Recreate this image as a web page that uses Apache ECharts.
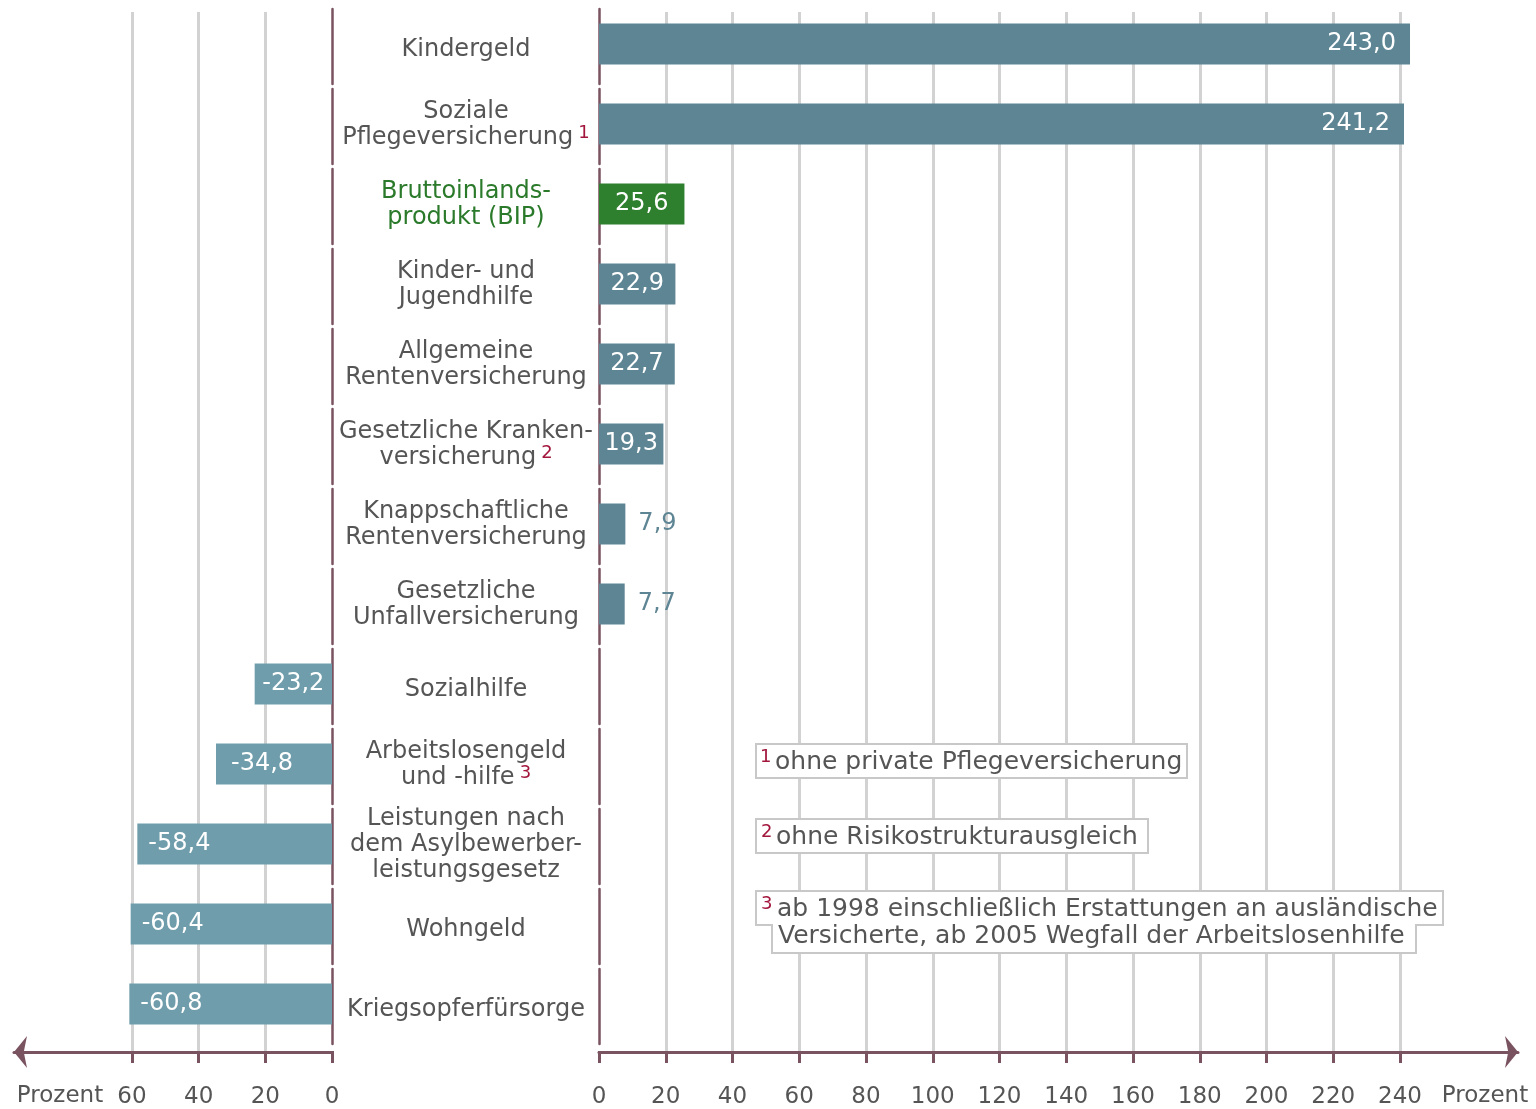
<!DOCTYPE html>
<html><head><meta charset="utf-8">
<script src="https://cdn.jsdelivr.net/npm/echarts@6/dist/echarts.min.js"></script>
<style>html,body{margin:0;padding:0;background:#fff}#c{width:1536px;height:1109px}</style>
</head><body><div id="c"></div>
<script>
// ---- data ----
const categories = ['Kindergeld', 'Soziale\nPflegeversicherung', 'Bruttoinlands-\nprodukt (BIP)', 'Kinder- und\nJugendhilfe', 'Allgemeine\nRentenversicherung', 'Gesetzliche Kranken-\nversicherung', 'Knappschaftliche\nRentenversicherung', 'Gesetzliche\nUnfallversicherung', 'Sozialhilfe', 'Arbeitslosengeld\nund -hilfe', 'Leistungen nach\ndem Asylbewerber-\nleistungsgesetz', 'Wohngeld', 'Kriegsopferfürsorge'];
const values = [243.0, 241.2, 25.6, 22.9, 22.7, 19.3, 7.9, 7.7, -23.2, -34.8, -58.4, -60.4, -60.8];
const footnoteMarks = ['', '1', '', '', '', '2', '', '', '', '3', '', '', ''];
const highlightCategory = 'Bruttoinlands-\nprodukt (BIP)';
const rightTicks = [0, 240, 20];   // min, max, interval
const leftTicks = [-60, 0, 20];
const unitLabel = 'Prozent';
const footnoteNumbers = ['1', '2', '3'];
const footnoteLines = [['ohne private Pflegeversicherung'], ['ohne Risikostrukturausgleich'], ['ab 1998 einschließlich Erstattungen an ausländische', 'Versicherte, ab 2005 Wegfall der Arbeitslosenhilfe']];

// ---- styles ----
const FONT = 'DejaVu Sans';
const TXT = '#555555';
const MAROON = '#7a5360';
const GRIDC = '#d2d2d2';
const RIGHT_BAR = '#5e8594';
const LEFT_BAR = '#6f9dab';
const GREEN = '#2e7f2e';
const GREEN_TXT = '#2b7a2b';
const SUP = '#a3163c';

const fmt = v => (Math.round(Math.abs(v) * 10) / 10).toFixed(1).replace('.', ',');
const fmtSigned = v => (v < 0 ? '-' : '') + fmt(v);

const rightData = values.map((v, i) => {
  if (v <= 0) return '-';
  const hl = categories[i] === highlightCategory;
  const col = hl ? GREEN : RIGHT_BAR;
  let label;
  if (v >= 100) label = {position: 'insideRight', distance: 14};
  else if (v >= 10) label = {position: 'inside'};
  else label = {position: 'right', distance: 13, color: col};
  return {value: v, itemStyle: {color: col}, label: label};
});
const leftData = values.map((v, i) => {
  if (v >= 0) return '-';
  let label;
  if (Math.abs(v) < 30) label = {position: 'inside'};
  else label = {position: 'insideLeft', distance: Math.abs(v) < 50 ? 15 : 11};
  return {value: v, itemStyle: {color: LEFT_BAR}, label: label};
});

const catFormatter = (value) => {
  const lines = value.split('\n');
  let st = value === highlightCategory ? 'g' : 'n';
  if (lines.length === 1) st = 's';
  const mark = footnoteMarks[categories.indexOf(value)];
  return lines.map((l, i) => '{' + st + '|' + l + '}' + (i === lines.length - 1 && mark ? '{sup|' + mark + '}' : '')).join('\n');
};

const divider = {show: true, lineStyle: {color: MAROON, width: 2.5, type: [75, 5], dashOffset: 75}};
const tickStyle = {show: true, length: 12, lineStyle: {color: MAROON, width: 3}};
const labelStyle = {margin: 35, fontSize: 23, color: TXT, fontFamily: FONT};

const footGraphics = [];
const boxes = [
  [[756, 744, 431, 34]],
  [[756, 819, 392, 34]],
  [[756, 891, 687, 34], [772, 922, 644, 31]]
];
const textPos = [[[760, 757], [775, 762]], [[761, 832], [776, 837]], [[761, 904], [777, 909], [778, 936]]];
boxes.forEach(bs => bs.forEach(b => footGraphics.push({type: 'rect', shape: {x: b[0], y: b[1], width: b[2], height: b[3]}, style: {fill: '#fff', stroke: '#c8c8c8', lineWidth: 2}, z: 10})));
boxes.forEach(bs => bs.forEach(b => footGraphics.push({type: 'rect', shape: {x: b[0] + 1, y: b[1] + 1, width: b[2] - 2, height: b[3] - 2}, style: {fill: '#fff'}, z: 11})));
footnoteNumbers.forEach((n, k) => {
  const tp = textPos[k];
  footGraphics.push({type: 'text', x: tp[0][0], y: tp[0][1], style: {text: n, fill: SUP, fontSize: 18, fontFamily: FONT, verticalAlign: 'middle'}, z: 12});
  footnoteLines[k].forEach((line, j) => {
    footGraphics.push({type: 'text', x: tp[j + 1][0], y: tp[j + 1][1], style: {text: line, fill: TXT, fontSize: 25, fontFamily: FONT, verticalAlign: 'middle'}, z: 12});
  });
});

const chart = echarts.init(document.getElementById('c'), null, {renderer: 'canvas'});
const hiddenX = (gi, t) => ({gridIndex: gi, type: 'value', min: t[0], max: t[1], interval: t[2], show: false, splitLine: {show: false}});
chart.setOption({
  animation: false,
  textStyle: {fontFamily: FONT},
  grid: [
    {left: 132, width: 200, top: 4, height: 1040},   // 0 left bars
    {left: 599, width: 801, top: 4, height: 1040},   // 1 right bars
    {left: 132, width: 200, top: 12, height: 1040},  // 2 left axis/grid lines
    {left: 599, width: 801, top: 12, height: 1040},  // 3 right axis/grid lines
    {left: 14, width: 318, top: 12, height: 1040},   // 4 left arrow line
    {left: 599, width: 919, top: 12, height: 1040}   // 5 right arrow line
  ],
  xAxis: [
    hiddenX(0, leftTicks),
    hiddenX(1, rightTicks),
    {gridIndex: 2, type: 'value', min: leftTicks[0], max: leftTicks[1], interval: leftTicks[2],
     axisLine: {show: false}, axisTick: tickStyle,
     splitLine: {show: true, showMaxLine: false, lineStyle: {color: GRIDC, width: 3}},
     axisLabel: Object.assign({formatter: v => String(Math.abs(v))}, labelStyle)},
    {gridIndex: 3, type: 'value', min: rightTicks[0], max: rightTicks[1], interval: rightTicks[2],
     axisLine: {show: false}, axisTick: tickStyle,
     splitLine: {show: true, showMinLine: false, lineStyle: {color: GRIDC, width: 3}},
     axisLabel: Object.assign({}, labelStyle)},
    {gridIndex: 4, type: 'value', min: 0, max: 1,
     axisLine: {show: true, symbol: ['arrow', 'none'], symbolSize: [24, 13], lineStyle: {color: MAROON, width: 3}},
     axisTick: {show: false}, axisLabel: {show: false}, splitLine: {show: false}},
    {gridIndex: 5, type: 'value', min: 0, max: 1,
     axisLine: {show: true, symbol: ['none', 'arrow'], symbolSize: [24, 13], lineStyle: {color: MAROON, width: 3}},
     axisTick: {show: false}, axisLabel: {show: false}, splitLine: {show: false}}
  ],
  yAxis: [
    {gridIndex: 0, type: 'category', data: categories, inverse: true, position: 'right',
     axisLine: divider, axisTick: {show: false}, axisLabel: {show: false}, splitLine: {show: false}},
    {gridIndex: 1, type: 'category', data: categories, inverse: true, position: 'left',
     axisLine: divider, axisTick: {show: false}, splitLine: {show: false},
     axisLabel: {margin: 133, align: 'center', formatter: catFormatter,
       rich: {
         n: {fontSize: 24, color: TXT, lineHeight: 26, fontFamily: FONT, padding: [2, 0, 0, 0]},
         s: {fontSize: 24, color: TXT, lineHeight: 26, fontFamily: FONT, padding: [12, 0, 0, 0]},
         g: {fontSize: 24, color: GREEN_TXT, lineHeight: 26, fontFamily: FONT, padding: [2, 0, 0, 0]},
         sup: {fontSize: 18, color: SUP, verticalAlign: 'top', padding: [0, 0, 0, 5], fontFamily: FONT}
       }}},
    {gridIndex: 2, show: false},
    {gridIndex: 3, show: false},
    {gridIndex: 4, show: false},
    {gridIndex: 5, show: false}
  ],
  series: [
    {type: 'bar', xAxisIndex: 1, yAxisIndex: 1, data: rightData, barWidth: 41, clip: false,
     label: {show: true, color: '#fff', fontSize: 24, fontFamily: FONT, formatter: p => fmtSigned(p.value)}},
    {type: 'bar', xAxisIndex: 0, yAxisIndex: 0, data: leftData, barWidth: 41, clip: false,
     label: {show: true, color: '#fff', fontSize: 24, fontFamily: FONT, formatter: p => fmtSigned(p.value)}}
  ],
  graphic: [
    {type: 'text', x: 60, y: 1096, style: {text: unitLabel, fill: TXT, fontSize: 23, fontFamily: FONT, align: 'center', verticalAlign: 'middle'}},
    {type: 'text', x: 1485, y: 1096, style: {text: unitLabel, fill: TXT, fontSize: 23, fontFamily: FONT, align: 'center', verticalAlign: 'middle'}}
  ].concat(footGraphics)
});
</script></body></html>
